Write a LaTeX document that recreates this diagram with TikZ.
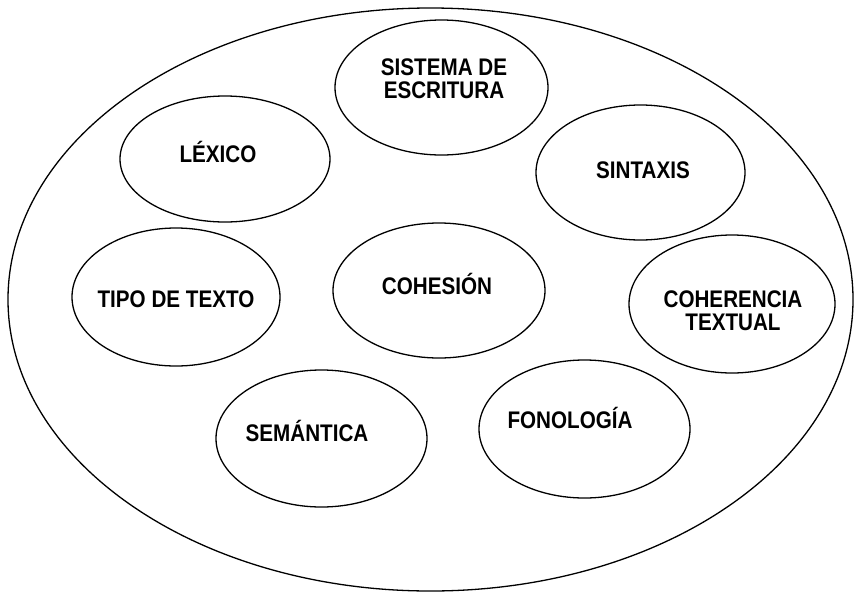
\documentclass[tikz,border=0pt]{standalone}
\usepackage{fontspec}
\setmainfont{Liberation Sans}[FakeStretch=0.86]
\usetikzlibrary{shapes.geometric}

\begin{document}
\begin{tikzpicture}[x=1pt, y=-1pt,
  line width=1.3pt,
  bubble/.style={draw, ellipse, inner sep=0pt},
  word/.style={font=\bfseries\fontsize{24}{23}\selectfont, inner sep=0pt, anchor=base},
  words/.style={word, align=center, anchor=center}]

  \useasboundingbox (0,0) rectangle (854,592);

  % outer ellipse
  \node[bubble, minimum width=845pt, minimum height=583pt] (lengua) at (430.5,299.5) {};

  % inner ellipses
  \node[bubble, minimum width=213pt, minimum height=135pt] (escritura) at (441.5,87.5) {};
  \node[bubble, minimum width=210pt, minimum height=126pt] (lexico) at (225,159) {};
  \node[bubble, minimum width=209pt, minimum height=135pt] (sintaxis) at (640.5,172.5) {};
  \node[bubble, minimum width=208pt, minimum height=138pt] (tipo) at (176,297) {};
  \node[bubble, minimum width=212pt, minimum height=135pt] (cohesion) at (439,290.5) {};
  \node[bubble, minimum width=206pt, minimum height=138pt] (coherencia) at (732,304) {};
  \node[bubble, minimum width=211pt, minimum height=137pt] (semantica) at (321.5,438.5) {};
  \node[bubble, minimum width=211pt, minimum height=138pt] (fonologia) at (584.5,429) {};

  % labels
  \node[words] (escritura-t) at (444,78.5) {SISTEMA DE\\ESCRITURA};
  \node[word] (lexico-t) at (218,162) {LÉXICO};
  \node[word] (sintaxis-t) at (643,178) {SINTAXIS};
  \node[word] (tipo-t) at (176,307) {TIPO DE TEXTO};
  \node[word] (cohesion-t) at (437,294) {COHESIÓN};
  \node[words] (coherencia-t) at (733,311) {COHERENCIA\\TEXTUAL};
  \node[word] (semantica-t) at (307,441) {SEMÁNTICA};
  \node[word] (fonologia-t) at (570,428) {FONOLOGÍA};
\end{tikzpicture}
\end{document}
